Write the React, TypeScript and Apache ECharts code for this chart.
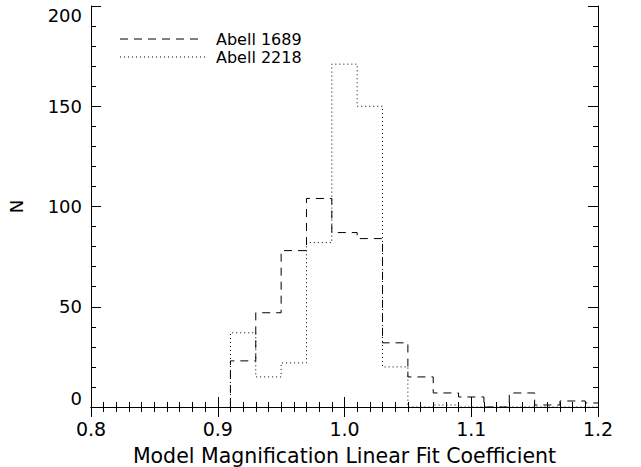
import React, { useEffect, useRef } from "react";
import * as echarts from "echarts";

const binStarts = [0.91, 0.93, 0.95, 0.97, 0.99, 1.01, 1.03, 1.05, 1.07, 1.09, 1.11, 1.13, 1.15, 1.17, 1.19];
const binWidth = 0.02;
const abell1689 = [23, 47, 78, 104, 87, 84, 32, 15, 7, 5, 0, 7, 1, 3, 2];
const abell2218 = [37, 15, 22, 82, 171, 150, 20, 0, 1, 0, 0, 0, 0, 0, 0];
const seriesNames = ["Abell 1689", "Abell 2218"];
const xTitle = "Model Magnification Linear Fit Coefficient";
const yTitle = "N";

const FONT = "DejaVu Sans";

function stepData(values: number[]): number[][] {
  const pts: number[][] = [[binStarts[0], 0]];
  values.forEach((v, i) => pts.push([binStarts[i], v]));
  const end = binStarts[binStarts.length - 1] + binWidth;
  pts.push([end, values[values.length - 1]]);
  pts.push([end, 0]);
  return pts;
}

export default function App() {
  const ref = useRef<HTMLDivElement>(null);
  useEffect(() => {
    if (!ref.current) return;
    const chart = echarts.init(ref.current, null, { renderer: "svg" });
    const tickCommon = {
      axisLine: { show: true, lineStyle: { color: "#000", width: 1 } },
      axisTick: { show: true, inside: true, length: 10, lineStyle: { color: "#000" } },
      minorTick: { show: true, length: 5, lineStyle: { color: "#000" } },
      splitLine: { show: false },
      minorSplitLine: { show: false },
    };
    const xBase = { type: "value", min: 0.8, max: 1.2, interval: 0.1, ...tickCommon, minorTick: { ...tickCommon.minorTick, splitNumber: 10 } };
    const yBase = { type: "value", min: 0, max: 200, interval: 50, ...tickCommon, minorTick: { ...tickCommon.minorTick, splitNumber: 5 } };
    chart.setOption({
      animation: false,
      backgroundColor: "#fff",
      grid: { left: 91, right: 43, top: 6, bottom: 60, containLabel: false, outerBoundsMode: "none" },
      xAxis: [
        {
          ...xBase,
          position: "bottom",
          name: xTitle,
          nameLocation: "middle",
          nameGap: 38,
          nameTextStyle: { fontFamily: FONT, fontSize: 20.5, color: "#000" },
          axisLabel: {
            show: true,
            margin: 12,
            fontFamily: FONT,
            fontSize: 19,
            color: "#000",
            formatter: (v: number) => v.toFixed(1),
          },
        },
        { ...xBase, position: "top", axisLabel: { show: false } },
      ],
      yAxis: [
        {
          ...yBase,
          position: "left",
          name: yTitle,
          nameLocation: "middle",
          nameGap: 66,
          nameRotate: 90,
          nameTextStyle: { fontFamily: FONT, fontSize: 18, color: "#000" },
          axisLabel: {
            show: true,
            margin: 9,
            fontFamily: FONT,
            fontSize: 18,
            color: "#000",
            verticalAlignMinLabel: "bottom",
            verticalAlignMaxLabel: "top",
          },
        },
        { ...yBase, position: "right", axisLabel: { show: false } },
      ],
      series: [
        {
          name: seriesNames[0],
          type: "line",
          step: "end",
          data: stepData(abell1689),
          showSymbol: false,
          symbol: "none",
          lineStyle: { color: "#000", width: 1, type: [8, 6] },
          xAxisIndex: 0,
          yAxisIndex: 0,
        },
        {
          name: seriesNames[1],
          type: "line",
          step: "end",
          data: stepData(abell2218),
          showSymbol: false,
          symbol: "none",
          lineStyle: { color: "#000", width: 1, type: [1, 3] },
          xAxisIndex: 0,
          yAxisIndex: 0,
        },
      ],
      graphic: [
        {
          type: "line",
          shape: { x1: 120, y1: 39, x2: 202, y2: 39 },
          style: { stroke: "#000", lineWidth: 1, lineDash: [8, 6] },
        },
        {
          type: "line",
          shape: { x1: 120, y1: 57, x2: 206, y2: 57 },
          style: { stroke: "#000", lineWidth: 1, lineDash: [1, 3] },
        },
        {
          type: "text",
          x: 216,
          y: 39,
          style: { text: seriesNames[0], fontFamily: FONT, fontSize: 16, fill: "#000", verticalAlign: "middle" },
        },
        {
          type: "text",
          x: 216,
          y: 57,
          style: { text: seriesNames[1], fontFamily: FONT, fontSize: 16, fill: "#000", verticalAlign: "middle" },
        },
      ],
    });
    return () => chart.dispose();
  }, []);
  return <div ref={ref} style={{ width: 641, height: 467, position: "absolute", left: 0, top: 0 }} />;
}
